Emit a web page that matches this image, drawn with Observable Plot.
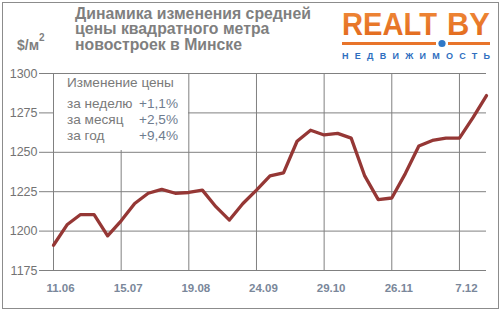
<!DOCTYPE html>
<html><head><meta charset="utf-8">
<script src="https://cdn.jsdelivr.net/npm/d3@7"></script>
<script src="https://cdn.jsdelivr.net/npm/@observablehq/plot@0.6"></script>
<style>
body{margin:0;background:#fff;font-family:"Liberation Sans",Arial,sans-serif;}
#wrap{position:relative;width:503px;height:312px;overflow:hidden;}
#frame{position:absolute;left:2px;top:2px;width:497px;height:307px;border:1px solid #8c8c8c;box-sizing:border-box;pointer-events:none;}
#title{position:absolute;left:75px;top:6px;font-weight:bold;font-size:15.8px;line-height:15.4px;color:#7f7f7f;}
#unit{position:absolute;left:17px;top:35px;font-weight:bold;font-size:14px;color:#7f7f7f;}
#unit sup{font-size:10px;position:relative;top:-3px;}
#box{position:absolute;left:54px;top:74px;width:134px;height:76px;background:#fff;}
.bt{position:absolute;font-size:13.6px;color:#7a7a7a;white-space:nowrap;}
.bv{position:absolute;font-size:13.6px;color:#6f7c8f;white-space:nowrap;text-align:right;}
#logo{position:absolute;left:0;top:0;}
</style></head>
<body><div id="wrap"><div id="chart"></div>
<div id="box"></div>
<div id="title">Динамика изменения средней<br>цены квадратного метра<br>новостроек в Минске</div>
<div id="unit">$/м<sup>2</sup></div>
<svg id="logo" width="503" height="70">
 <defs><linearGradient id="og" x1="0" y1="0" x2="0" y2="1"><stop offset="0" stop-color="#f08a3a"/><stop offset="1" stop-color="#e0661a"/></linearGradient></defs>
 <text x="342" y="35" font-family="Liberation Sans, Arial" font-weight="bold" font-size="31" fill="url(#og)" textLength="95" lengthAdjust="spacingAndGlyphs">REALT</text>
 <text x="447" y="35" font-family="Liberation Sans, Arial" font-weight="bold" font-size="31" fill="url(#og)" textLength="43" lengthAdjust="spacingAndGlyphs">BY</text>
 <rect x="342" y="42" width="94" height="3" fill="#e8742a"/>
 <rect x="448" y="42" width="42" height="3" fill="#e8742a"/>
 <circle cx="442" cy="43.5" r="3.6" fill="#2f78c8"/>
 <text x="342" y="58.5" font-family="Liberation Sans, Arial" font-weight="bold" font-size="9" fill="#2f6fbf" textLength="148" lengthAdjust="spacing">НЕДВИЖИМОСТЬ</text>
</svg>
<div id="frame"></div>
</div>
<script>
const prices = [1191,1204,1210.5,1210.5,1197,1206.5,1217.5,1224,1226.5,1224,1224.5,1226,1215.5,1207,1217.5,1226,1235,1237,1257,1264,1261,1262,1259,1235,1220,1221,1236.5,1254,1257.5,1259,1259,1272,1286];
const xTickIndex = [0,5,10,15,20,25,30];
const xTickLabels = ["11.06","15.07","19.08","24.09","29.10","26.11","7.12"];
const yTicks = [1175,1200,1225,1250,1275,1300];
const changeLabels = ["за неделю","за месяц","за год"];
const changeValues = ["+1,1%","+2,5%","+9,4%"];
const boxTitle = "Изменение цены";

const data = prices.map((v,i)=>({i,v}));
const chart = Plot.plot({
  width:503, height:312,
  marginLeft:53, marginRight:17, marginTop:73, marginBottom:42,
  style:{fontFamily:"Liberation Sans, Arial, sans-serif", background:"transparent"},
  x:{domain:[0,32]},
  y:{domain:[1175,1300]},
  marks:[
    Plot.gridY(yTicks,{stroke:"#808080",strokeOpacity:1}),
    Plot.gridX(xTickIndex,{stroke:"#808080",strokeOpacity:1}),
    Plot.ruleX([0],{stroke:"#808080"}),
    Plot.axisY(yTicks,{label:null,tickFormat:(d)=>String(d),tickSize:14,tickPadding:2,stroke:"#808080",fill:"#737373",fontSize:12.5}),
    Plot.axisX(xTickIndex,{label:null,tickSize:0,tickPadding:13,tickFormat:(d)=>xTickLabels[xTickIndex.indexOf(d)],fill:"#7a879a",fontSize:11.5,fontWeight:"bold",dx:7}),
    Plot.line(data,{x:"i",y:"v",stroke:"#953735",strokeWidth:3.3,strokeLinejoin:"round"})
  ]
});
document.getElementById("chart").appendChild(chart);

const wrap = document.getElementById("wrap");
function add(cls,txt,left,top,right){
  const d=document.createElement("div");d.className=cls;d.textContent=txt;
  d.style.top=top+"px";
  if(right!=null){d.style.right=right+"px";}else{d.style.left=left+"px";}
  wrap.appendChild(d);
}
add("bt",boxTitle,67,75);
changeLabels.forEach((t,k)=>add("bt",t,67,96+k*16));
changeValues.forEach((t,k)=>add("bv",t,null,96+k*16,503-178));
</script>
</body></html>
